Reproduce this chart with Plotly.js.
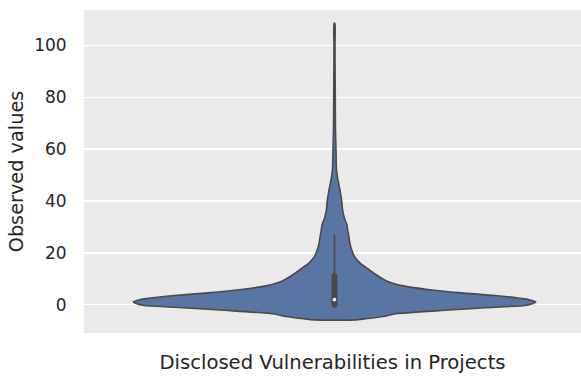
<!DOCTYPE html>
<html>
<head>
<meta charset="utf-8">
<script src="https://cdn.plot.ly/plotly-3.0.1.min.js"></script>
<style>
  html, body { margin: 0; padding: 0; background: #ffffff; }
  #chart { width: 581px; height: 376px; }
</style>
</head>
<body>
<div id="chart"></div>
<script>
// ---- data ----
const category = "Disclosed Vulnerabilities in Projects";
const yTickValues = [0, 20, 40, 60, 80, 100];
const yTickLabels = ["0", "20", "40", "60", "80", "100"];

// violin outline: observed value levels and relative density (1 = widest)
const densityLevels = [-5.8, -5.4, -4.4, -3.5, -2.1, -0.9, -0.27, 0.5, 1.15, 1.8, 2.3, 3.6, 4.6, 5.9, 7.2, 9.1, 11.7, 13.6, 16.0, 18.7, 21.5, 24.0, 27.0, 29.0, 30.9, 32.8, 34.1, 36.7, 39.2, 40.5, 44.3, 48.2, 52.0, 59.7, 67.4, 80.0, 90.0, 100.0, 108.5];
const densityValues = [0.105, 0.148, 0.249, 0.297, 0.547, 0.796, 0.945, 0.985, 1.0, 0.975, 0.945, 0.796, 0.629, 0.463, 0.348, 0.262, 0.205, 0.172, 0.128, 0.099, 0.084, 0.076, 0.070, 0.065, 0.062, 0.052, 0.047, 0.040, 0.037, 0.035, 0.027, 0.017, 0.010, 0.0075, 0.005, 0.004, 0.003, 0.0025, 0.002];

// inner box summary
const boxQ1 = 0;
const boxMedian = 2;
const boxQ3 = 11;
const whiskerLow = 0;
const whiskerHigh = 27;

// ---- build the traces ----
const halfWidth = 0.405;
const outlineX = [], outlineY = [];
for (let i = 0; i < densityLevels.length; i++) {
  outlineX.push(densityValues[i] * halfWidth);
  outlineY.push(densityLevels[i]);
}
for (let i = densityLevels.length - 1; i >= 0; i--) {
  outlineX.push(-densityValues[i] * halfWidth);
  outlineY.push(densityLevels[i]);
}
outlineX.push(outlineX[0]);
outlineY.push(outlineY[0]);

const fillColor = "#5875a4";
const lineGray = "#4a4a4a";

const traces = [
  {
    type: "scatter", mode: "lines", x: outlineX, y: outlineY,
    fill: "toself", fillcolor: fillColor,
    line: { color: lineGray, width: 1.6, shape: "spline", smoothing: 0.6 },
    hoverinfo: "skip", showlegend: false
  },
  {
    type: "scatter", mode: "lines", x: [0, 0], y: [whiskerLow, whiskerHigh],
    line: { color: lineGray, width: 1.6 }, hoverinfo: "skip", showlegend: false
  },
  {
    type: "scatter", mode: "lines", x: [0, 0], y: [boxQ1, boxQ3],
    line: { color: lineGray, width: 6 }, hoverinfo: "skip", showlegend: false
  },
  {
    type: "scatter", mode: "markers", x: [0], y: [boxMedian],
    marker: { color: "#ffffff", size: 3.6, line: { width: 0 } },
    hoverinfo: "skip", showlegend: false
  }
];

const layout = {
  width: 581, height: 376,
  margin: { l: 84, r: 0, t: 10, b: 43, pad: 0 },
  paper_bgcolor: "#ffffff",
  plot_bgcolor: "#eaeaea",
  font: { family: "DejaVu Sans", color: "#262626", size: 17 },
  showlegend: false,
  xaxis: {
    range: [-0.504, 0.496],
    showgrid: false, zeroline: false, showline: false,
    showticklabels: false, ticks: "",
    title: { text: category, font: { size: 19.6, color: "#262626" }, standoff: 22 },
    automargin: false, fixedrange: true
  },
  yaxis: {
    range: [-10.85, 113.6],
    tickmode: "array", tickvals: yTickValues, ticktext: yTickLabels,
    showgrid: true, gridcolor: "#ffffff", gridwidth: 1.3,
    zeroline: false, showline: false,
    ticks: "outside", ticklen: 13, tickcolor: "rgba(0,0,0,0)",
    tickfont: { size: 17, color: "#262626" },
    title: { text: "Observed values", font: { size: 19.3, color: "#262626" }, standoff: 5 },
    automargin: false, fixedrange: true
  }
};

Plotly.newPlot("chart", traces, layout, { staticPlot: true, displayModeBar: false }).then(() => {
  const lines = document.querySelectorAll(".scatterlayer .trace path.js-line");
  lines.forEach((p, i) => { if (i >= 1) p.style.strokeLinecap = "round"; });
});
</script>
</body>
</html>
